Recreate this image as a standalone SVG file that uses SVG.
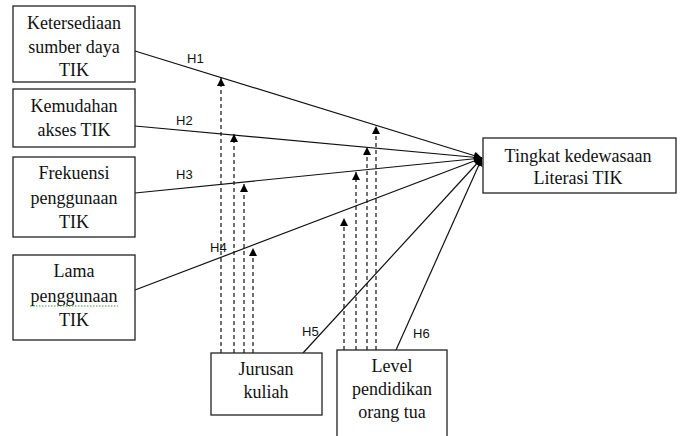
<svg xmlns="http://www.w3.org/2000/svg" width="680" height="436" viewBox="0 0 680 436">
<style>
.box{fill:#fff;stroke:#222;stroke-width:1.3}
.t{font-family:'Liberation Serif','DejaVu Serif',serif;font-size:18px;fill:#111;text-anchor:middle}
.h{font-family:'Liberation Sans',Arial,sans-serif;font-size:13px;fill:#111}
.ln{stroke:#111;stroke-width:1.2;fill:none}
.ds{stroke:#111;stroke-width:1.2;fill:none;stroke-dasharray:4 3}
</style>
<defs>
<marker id="ah" viewBox="0 0 10 10" refX="10" refY="5" markerWidth="8" markerHeight="8" markerUnits="userSpaceOnUse" orient="auto">
<path d="M0,0 L10,5 L0,10 z" fill="#000"/>
</marker>
<marker id="da" viewBox="0 0 10 10" refX="10" refY="5" markerWidth="9" markerHeight="8" markerUnits="userSpaceOnUse" orient="auto">
<path d="M0,0 L10,5 L0,10 z" fill="#000"/>
</marker>
</defs>
<rect width="680" height="436" fill="#fff"/>
<g id="connectors">
<line class="ln" x1="135" y1="51" x2="482" y2="158" marker-end="url(#ah)"/>
<line class="ln" x1="135" y1="126" x2="482" y2="158" marker-end="url(#ah)"/>
<line class="ln" x1="135" y1="193" x2="482" y2="158" marker-end="url(#ah)"/>
<line class="ln" x1="135" y1="290" x2="482" y2="158" marker-end="url(#ah)"/>
<line class="ln" x1="303" y1="353" x2="482" y2="158" marker-end="url(#ah)"/>
<line class="ln" x1="396" y1="350" x2="482" y2="158" marker-end="url(#ah)"/>
<line class="ds" x1="221" y1="353" x2="221" y2="78" marker-end="url(#da)"/>
<line class="ds" x1="234" y1="353" x2="234" y2="134" marker-end="url(#da)"/>
<line class="ds" x1="244" y1="353" x2="244" y2="184" marker-end="url(#da)"/>
<line class="ds" x1="253" y1="353" x2="253" y2="248" marker-end="url(#da)"/>
<line class="ds" x1="344" y1="350" x2="344" y2="218" marker-end="url(#da)"/>
<line class="ds" x1="356" y1="350" x2="356" y2="172" marker-end="url(#da)"/>
<line class="ds" x1="367" y1="350" x2="367" y2="147" marker-end="url(#da)"/>
<line class="ds" x1="376" y1="350" x2="376" y2="126" marker-end="url(#da)"/>
<text class="h" x="187" y="63">H1</text>
<text class="h" x="176" y="125">H2</text>
<text class="h" x="176" y="179">H3</text>
<text class="h" x="210" y="252">H4</text>
<text class="h" x="302" y="336">H5</text>
<text class="h" x="413" y="338">H6</text>
</g>
<g id="n1">
<rect class="box" x="13" y="6" width="122" height="76"/>
<text class="t" x="74" y="29">Ketersediaan</text>
<text class="t" x="74" y="53">sumber daya</text>
<text class="t" x="74" y="76">TIK</text>
</g>
<g id="n2">
<rect class="box" x="13" y="89" width="122" height="58"/>
<text class="t" x="74" y="112">Kemudahan</text>
<text class="t" x="74" y="136">akses TIK</text>
</g>
<g id="n3">
<rect class="box" x="13" y="157" width="122" height="80"/>
<text class="t" x="74" y="179">Frekuensi</text>
<text class="t" x="74" y="204">penggunaan</text>
<text class="t" x="74" y="228">TIK</text>
</g>
<g id="n4">
<rect class="box" x="13" y="255" width="122" height="85"/>
<text class="t" x="74" y="277">Lama</text>
<text class="t" x="74" y="302">penggunaan</text>
<line x1="30" y1="306" x2="118" y2="306" stroke="#3a9a3a" stroke-width="1" stroke-dasharray="1.5 1.5"/>
<text class="t" x="74" y="326">TIK</text>
</g>
<g id="n5">
<rect class="box" x="211" y="353" width="111" height="62"/>
<text class="t" x="266" y="375">Jurusan</text>
<text class="t" x="266" y="398">kuliah</text>
</g>
<g id="n6">
<rect class="box" x="337" y="350" width="110" height="92"/>
<text class="t" x="392" y="372">Level</text>
<text class="t" x="392" y="395">pendidikan</text>
<text class="t" x="392" y="418">orang tua</text>
</g>
<g id="n7">
<rect class="box" x="483" y="138" width="193" height="55"/>
<text class="t" x="578" y="162">Tingkat kedewasaan</text>
<text class="t" x="578" y="184">Literasi TIK</text>
</g>
</svg>
